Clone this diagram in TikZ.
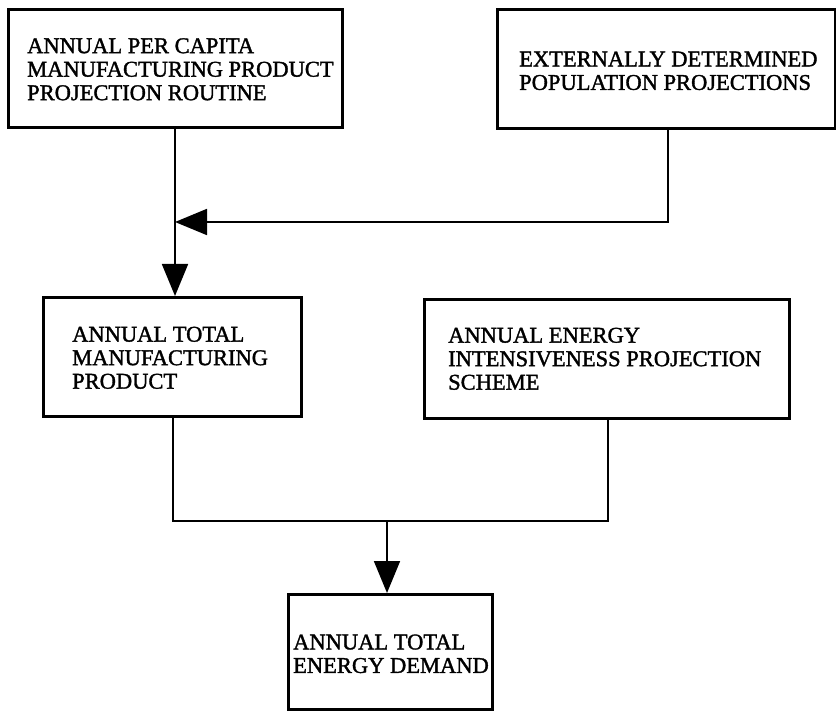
\documentclass[tikz,border=0pt]{standalone}
\usepackage{fontspec}
\setmainfont{Liberation Serif}[FakeBold=1.5]
\usetikzlibrary{arrows.meta}
\begin{document}
\begin{tikzpicture}[x=1pt,y=-1pt,
  blockbox/.style={draw=black, line width=2.6pt, rectangle, anchor=north west,
    inner sep=0pt},
  blocktext/.style={anchor=west, align=left, inner sep=0pt,
    font=\fontsize{22.5}{23.5}\selectfont},
  link/.style={draw=black, line width=1.8pt},
  tip/.style={-{Triangle[length=32pt,width=26pt]}}]
\useasboundingbox (0,0) rectangle (836,711);
\fill[white] (0,0) rectangle (836,711);

% boxes: (left, top), width, height
\node[blockbox, minimum width=334pt, minimum height=118pt] (percap) at (7,8) {};
\node[blockbox, minimum width=338pt, minimum height=119pt] (popul) at (496,8) {};
\node[blockbox, minimum width=258pt, minimum height=119pt] (totman) at (42,296) {};
\node[blockbox, minimum width=365pt, minimum height=119pt] (intens) at (423,298) {};
\node[blockbox, minimum width=204pt, minimum height=115pt] (demand) at (287,593) {};

% box texts, left aligned with an inset from each box's left edge
\node[blocktext] (percapT) at ([xshift=20pt,yshift=-1pt]percap.west)
  {ANNUAL PER CAPITA\\MANUFACTURING PRODUCT\\PROJECTION ROUTINE};
\node[blocktext] (populT) at ([xshift=23pt,yshift=-2pt]popul.west)
  {EXTERNALLY DETERMINED\\POPULATION PROJECTIONS};
\node[blocktext] (totmanT) at ([xshift=30pt,yshift=-1pt]totman.west)
  {ANNUAL TOTAL\\MANUFACTURING\\PRODUCT};
\node[blocktext] (intensT) at ([xshift=25pt]intens.west)
  {ANNUAL ENERGY\\INTENSIVENESS PROJECTION\\SCHEME};
\node[blocktext] (demandT) at ([xshift=6pt,yshift=-2pt]demand.west)
  {ANNUAL TOTAL\\ENERGY DEMAND};

% junction points
\coordinate (popjoin) at (175,222);
\coordinate (mergeL) at (173,521);
\coordinate (mergeR) at (608,521);
\coordinate (mergeC) at (387,521);

% per capita product times population gives total product
\draw[link, tip] (percap.south -| popjoin) -- (popjoin |- totman.north);
\draw[link, tip] (popul.south -| 668,0) |- (popjoin);

% total product and intensiveness combine into energy demand
\draw[link] (totman.south -| mergeL) -- (mergeL) -- (mergeR) -- (intens.south -| mergeR);
\draw[link, tip] (mergeC) -- (mergeC |- demand.north);
\end{tikzpicture}
\end{document}
